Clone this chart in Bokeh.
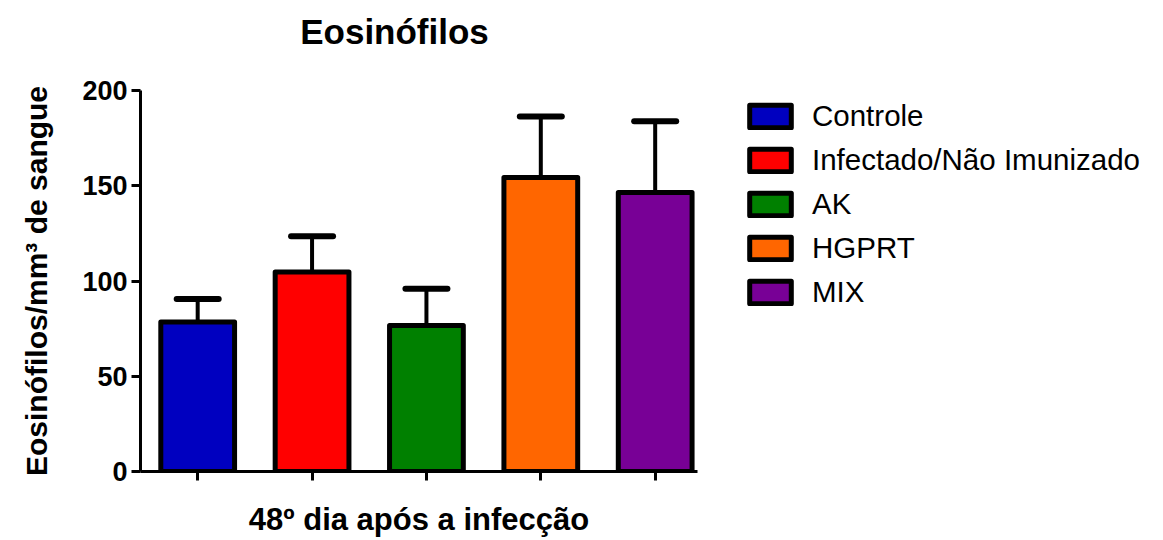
from bokeh.plotting import figure
from bokeh.layouts import column
from bokeh.models import (Range1d, FixedTicker, Legend, LegendItem, ColumnDataSource,
                          Whisker, TeeHead, Label)
from bokeh.embed import file_html
from bokeh.resources import INLINE

# Eosinophil counts on day 48 after infection (mean and SEM per group)
groups = ["Controle", "Infectado/Não Imunizado", "AK", "HGPRT", "MIX"]
means = [78.5, 104.7, 76.6, 154.3, 146.5]
sem = [12.1, 18.8, 19.3, 32.1, 37.4]
colors = ["#0000C0", "#FF0000", "#008000", "#FF6600", "#780096"]
y_ticks = [0, 50, 100, 150, 200]

FONT = "Liberation Sans"
LEFT = 140
FRAME_W = 557
FRAME_H = 381
HEADER_H = 70

positions = list(range(len(groups)))
upper = [m + s for m, s in zip(means, sem)]

src = ColumnDataSource(dict(x=positions, top=means, upper=upper, color=colors, label=groups))

# header strip holding the chart title (pixel-based ranges)
head = figure(frame_width=FRAME_W, frame_height=HEADER_H, output_backend="svg",
              toolbar_location=None, x_range=Range1d(0, FRAME_W), y_range=Range1d(0, HEADER_H),
              min_border_left=LEFT, min_border_right=0, min_border_top=0, min_border_bottom=0,
              x_axis_type=None, y_axis_type=None)
head.outline_line_color = None
head.xgrid.grid_line_color = None
head.ygrid.grid_line_color = None
head.add_layout(Label(x=254, y=HEADER_H - 31, text="Eosinófilos", text_font=FONT,
                      text_font_size="35px", text_font_style="bold", text_color="black",
                      text_align="center", text_baseline="alphabetic"))

p = figure(frame_width=FRAME_W, frame_height=FRAME_H, output_backend="svg", toolbar_location=None,
           x_range=Range1d(-0.5, 4.37), y_range=Range1d(0, 200),
           min_border_left=LEFT, min_border_right=0, min_border_top=20, min_border_bottom=69)

p.outline_line_color = None
p.xgrid.grid_line_color = None
p.ygrid.grid_line_color = None
p.background_fill_color = "white"

# error bars (upper only)
whisk = Whisker(source=src, base="x", upper="upper", lower="top",
                line_color="black", line_width=4,
                upper_head=TeeHead(size=42, line_width=6, line_color="black", line_cap="round"),
                lower_head=None)
p.add_layout(whisk)

bars = p.vbar(x="x", top="top", width=0.645, bottom=0, source=src,
              fill_color="color", line_color="black", line_width=5, line_join="round")

# axes
for ax in (p.xaxis[0], p.yaxis[0]):
    ax.axis_line_width = 3
    ax.axis_line_color = "black"
    ax.major_tick_line_width = 3
    ax.major_tick_line_color = "black"
    ax.minor_tick_line_color = None
    ax.major_tick_in = 0
    ax.axis_label_text_font = FONT
    ax.axis_label_text_font_style = "bold"
    ax.axis_label_text_color = "black"
    ax.major_label_text_font = FONT
    ax.major_label_text_font_style = "bold"
    ax.major_label_text_color = "black"

p.xaxis.ticker = FixedTicker(ticks=positions)
p.xaxis.major_tick_out = 9
p.xaxis.major_label_overrides = {i: "" for i in positions}
p.xaxis.major_label_standoff = 0
p.xaxis.axis_label = "48º dia após a infecção"
p.xaxis.axis_label_text_font_size = "31px"
p.xaxis.axis_label_standoff = 21

p.yaxis.ticker = FixedTicker(ticks=y_ticks)
p.yaxis.major_tick_out = 9
p.yaxis.major_label_text_font_size = "27px"
p.yaxis.major_label_standoff = 4
p.yaxis.axis_label = "Eosinófilos/mm³ de sangue"
p.yaxis.axis_label_text_font_size = "30px"
p.yaxis.axis_label_standoff = 26

legend = Legend(items=[LegendItem(label=g, renderers=[bars], index=i) for i, g in enumerate(groups)],
                location=(47, 162), border_line_color=None, background_fill_alpha=0,
                padding=0, margin=0, glyph_width=52, glyph_height=28,
                label_text_font=FONT, label_text_font_size="29.5px", label_text_color="black",
                label_standoff=16, spacing=10)
p.add_layout(legend, "right")

page = column(head, p, spacing=0)

open("out.html", "w").write(file_html(page, INLINE))
